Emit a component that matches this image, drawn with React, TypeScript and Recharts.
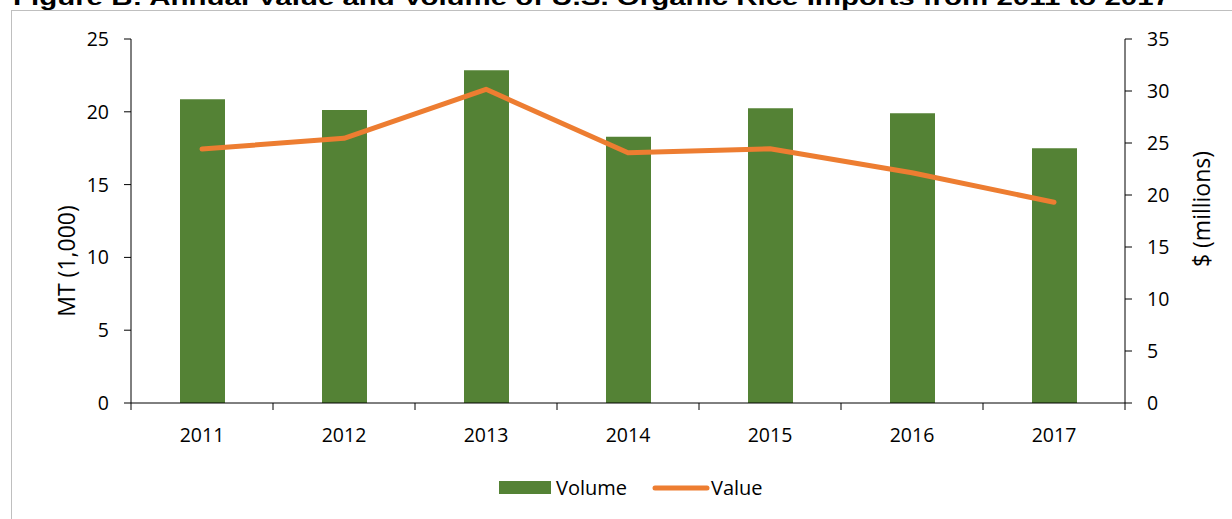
import { Bar, ComposedChart, Line, XAxis, YAxis } from 'recharts';

const years = ['2011', '2012', '2013', '2014', '2015', '2016', '2017'];
const volume = [20.86, 20.12, 22.85, 18.29, 20.24, 19.9, 17.49];
const value = [24.42, 25.45, 30.16, 24.07, 24.45, 22.14, 19.3];
const leftTicks = [0, 5, 10, 15, 20, 25];
const rightTicks = [0, 5, 10, 15, 20, 25, 30, 35];

const W = 1232;
const H = 519;
const LEFT_W = 131;
const RIGHT_W = 107;
const BAND = (W - LEFT_W - RIGHT_W) / years.length;
const FONT = '"Open Sans", sans-serif';
const GREEN = '#548235';
const ORANGE = '#ED7D31';

const chartData = years.map((year, i) => ({ year, volume: volume[i], value: value[i] }));

const YearTick = props => {
  const { x, y, payload, index } = props;
  const last = index === years.length - 1;
  return (
    <g>
      <line x1={x - BAND / 2} y1={y} x2={x - BAND / 2} y2={y + 7} stroke="#000" />
      {last && <line x1={x + BAND / 2} y1={y} x2={x + BAND / 2} y2={y + 7} stroke="#000" />}
      <text x={x} y={y + 39} textAnchor="middle" fontSize={19.5} fontFamily={FONT} fill="#000">
        {payload.value}
      </text>
    </g>
  );
};

const leftLabel = ({ viewBox }) => {
  const cx = 66;
  const cy = viewBox.y + viewBox.height / 2 + 40;
  return (
    <text x={cx} y={cy} transform={`rotate(-90 ${cx} ${cy})`} textAnchor="middle" dominantBaseline="central"
      fontSize={23} fontFamily={FONT} fill="#000">
      MT (1,000)
    </text>
  );
};

const rightLabel = ({ viewBox }) => {
  const cx = 1201;
  const cy = viewBox.y + viewBox.height / 2 - 12;
  return (
    <text x={cx} y={cy} transform={`rotate(-90 ${cx} ${cy})`} textAnchor="middle" dominantBaseline="central"
      fontSize={23} fontFamily={FONT} fill="#000">
      $ (millions)
    </text>
  );
};

export default function App() {
  return (
    <div style={{ position: 'absolute', left: 0, top: 0, width: W, height: H, overflow: 'hidden', background: '#fff' }}>
      <div style={{ position: 'absolute', left: 11, top: 10, width: 1400, height: 700, border: '1px solid #bfbfbf' }} />
      <svg width={W} height={20} style={{ position: 'absolute', left: 0, top: 0 }}>
        <text x={13} y={5} fontSize={22} fontWeight="bold" fontFamily='"Liberation Sans", Arial, sans-serif'
          textLength={1157} lengthAdjust="spacingAndGlyphs" fill="#000">
          Figure B: Annual Value and Volume of U.S. Organic Rice Imports from 2011 to 2017
        </text>
      </svg>
      <div style={{ position: 'absolute', left: 0, top: 0 }}>
        <ComposedChart width={W} height={H} data={chartData} margin={{ top: 39, right: 0, bottom: 76, left: 0 }}>
          <XAxis dataKey="year" height={40} axisLine={{ stroke: '#000' }} tickLine={false} tickSize={0}
            tickMargin={0} tick={YearTick} interval={0} />
          <YAxis yAxisId="left" width={LEFT_W} domain={[0, 25]} ticks={leftTicks} axisLine={{ stroke: '#000' }}
            tickLine={{ stroke: '#000' }} tickSize={7} tickMargin={15}
            tick={{ fontSize: 19.5, fontFamily: FONT, fill: '#000' }} label={leftLabel} />
          <YAxis yAxisId="right" orientation="right" width={RIGHT_W} domain={[0, 35]} ticks={rightTicks}
            axisLine={{ stroke: '#000' }} tickLine={{ stroke: '#000' }} tickSize={7} tickMargin={15}
            tick={{ fontSize: 19.5, fontFamily: FONT, fill: '#000' }} label={rightLabel} />
          <Bar yAxisId="left" dataKey="volume" name="Volume" fill={GREEN} barSize={45} isAnimationActive={false} />
          <Line yAxisId="right" dataKey="value" name="Value" stroke={ORANGE} strokeWidth={5} dot={false}
            activeDot={false} strokeLinecap="round" strokeLinejoin="round" type="linear" isAnimationActive={false} />
        </ComposedChart>
      </div>
      <svg width={W} height={40} style={{ position: 'absolute', left: 0, top: 470 }}>
        <rect x={499} y={11} width={52} height={13} fill={GREEN} />
        <text x={556} y={25} fontSize={20} fontFamily={FONT} fill="#000">Volume</text>
        <line x1={655} y1={18} x2={707} y2={18} stroke={ORANGE} strokeWidth={5} strokeLinecap="round" />
        <text x={711} y={25} fontSize={20} fontFamily={FONT} fill="#000">Value</text>
      </svg>
    </div>
  );
}
